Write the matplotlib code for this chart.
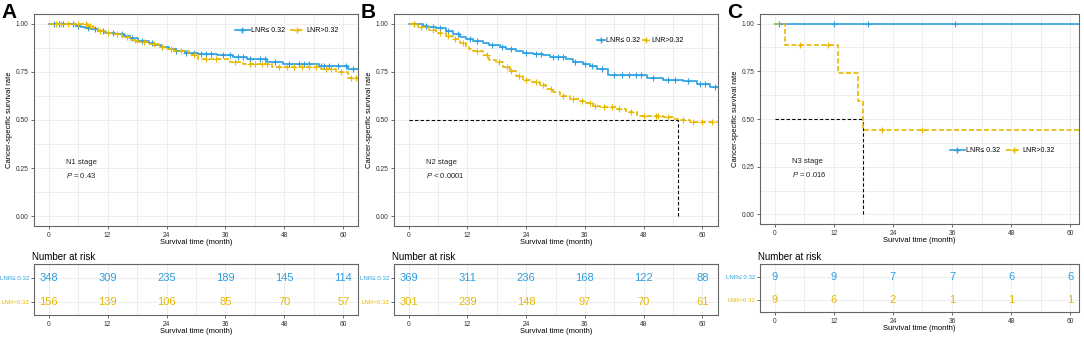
import numpy as np
import matplotlib
matplotlib.use("Agg")
import matplotlib.pyplot as plt
from matplotlib.lines import Line2D

plt.rcParams['font.family'] = ['Liberation Sans', 'DejaVu Sans']
plt.rcParams['mathtext.fontset'] = 'custom'
plt.rcParams['mathtext.it'] = 'Liberation Sans:italic'

BLUE = '#2E9FDF'
YELLOW = '#E7B800'
GRID = '#EBEBEB'
BORDER = '#666666'

# ---- data ----
# A: N1 stage
a_blue_t = [0, 5.6, 6.5, 7.3, 8.5, 10.0, 11.4, 13.5, 15.4, 16.5, 18.2, 20.5, 21.5, 22.9, 24.5, 26.0, 27.7, 30.5, 34.2, 37.6, 40.3, 44.4, 47.8, 55.0, 61.0]
a_blue_s = [1.0, .99, .98, .975, .97, .96, .95, .945, .935, .925, .91, .90, .89, .88, .87, .86, .85, .845, .836, .826, .815, .80, .79, .778, .767]
a_yel_t = [0, 8.0, 9.0, 10.0, 11.5, 13.0, 15.0, 16.5, 18.0, 20.5, 22.5, 24.0, 25.5, 28.5, 30.5, 37.0, 39.5, 45.5, 55.5, 58.5, 61.0]
a_yel_s = [1.0, .99, .975, .962, .953, .945, .93, .915, .905, .895, .88, .87, .86, .835, .815, .80, .79, .776, .763, .75, .72]
a_blue_cens = [1, 2, 3, 5, 6, 8, 9.5, 11, 13, 15, 17, 19, 21, 23, 26, 28, 29.5, 31, 32, 33, 35.5, 37, 38.5, 39.5, 41, 43, 44,
               46, 49, 51, 52, 53, 55.5, 56, 57, 59, 60.5, 62]
a_yel_cens = [1.5, 2.5, 4, 6, 7.5, 8.5, 10.5, 12, 14, 16, 17.5, 19.5, 21.5, 23, 25, 27, 29.5, 32, 34, 38, 41, 42, 43.5, 44.5,
              47, 48.5, 50, 51.5, 53, 54.5, 56.5, 57.5, 59.5, 61.5, 62.5]
a_risk_blue = [348, 309, 235, 189, 145, 114]
a_risk_yel = [156, 139, 106, 85, 70, 57]

# B: N2 stage
b_blue_t = [0, 2.9, 4.0, 5.6, 7.6, 9.0, 10.4, 11.7, 13.1, 15.2, 16.5, 18.6, 19.9, 22.0, 23.4, 25.4, 27.5, 28.8, 32.2, 33.6, 35.6, 37.0, 38.4, 40.8, 48.6, 52.0, 56.0, 58.9, 61.6]
b_blue_s = [1.0, .99, .98, .975, .96, .945, .93, .92, .91, .90, .89, .88, .87, .86, .85, .845, .835, .825, .815, .80, .79, .78, .765, .735, .72, .71, .70, .685, .67]
b_yel_t = [0, 2.0, 4.2, 5.6, 7.6, 9.0, 10.4, 11.7, 12.4, 13.1, 15.2, 16.5, 17.9, 19.3, 20.6, 22.0, 23.4, 24.7, 26.8, 28.1, 29.5, 30.9, 32.9, 34.9,
           36.3, 37.7, 39.0, 42.5, 44.5, 46.6, 52.0, 54.0, 55.0, 57.5]
b_yel_s = [1.0, .985, .965, .95, .935, .92, .90, .88, .87, .86, .835, .81, .80, .775, .755, .73, .71, .695, .68, .66, .645, .625, .61, .60,
           .59, .575, .565, .555, .54, .52, .515, .505, .50, .49]
b_blue_cens = [1, 3.5, 5, 6.5, 8, 10, 12.5, 14, 17, 19, 21, 24, 26, 27, 29.5, 30.5, 31.5, 34, 36, 37.5, 39.5, 42, 43.5, 45, 46.5,
               47.5, 50, 53, 54.5, 57, 59.5, 60.5, 62.5]
b_yel_cens = [1, 2.5, 5, 6.5, 8, 9.5, 11, 14, 16, 18.5, 20, 21, 22.5, 24, 26, 27.5, 29, 31.5, 33.5, 35.5, 37, 38, 40, 41.5, 43,
              45.5, 48, 50.5, 51, 53, 56, 58, 60, 62]
b_risk_blue = [369, 311, 236, 168, 122, 88]
b_risk_yel = [301, 239, 148, 97, 70, 61]
b_median = 55.0

# C: N3 stage
c_blue_t = [0]
c_blue_s = [1.0]
c_yel_t = [0, 2.0, 12.8, 16.9, 17.9]
c_yel_s = [1.0, .889, .741, .593, .444]
c_blue_cens = [0.8, 12, 18.9, 36.7]
c_yel_cens = [5.2, 10.8, 21.8, 29.9]
c_risk_blue = [9, 9, 7, 7, 6, 6]
c_risk_yel = [9, 6, 2, 1, 1, 1]
c_median = 17.9

risk_times = [0, 12, 24, 36, 48, 60]
group_labels = ['LNR\u2264 0.32', 'LNR>0.32']

W, H = 1084, 338
fig = plt.figure(figsize=(W / 100, H / 100), dpi=100)


def px_axes(l, t, r, b):
    return fig.add_axes([l / W, 1 - b / H, (r - l) / W, (b - t) / H])


def style_box(ax, xmax):
    ax.set_xlim(-3, xmax)
    ax.set_xticks(risk_times)
    ax.set_xticks([6, 18, 30, 42, 54], minor=True)
    ax.grid(True, which='both', color=GRID, lw=0.6)
    ax.set_axisbelow(True)
    for sp in ax.spines.values():
        sp.set_color(BORDER)
        sp.set_linewidth(0.8)
    ax.tick_params(which='major', labelsize=4.8, length=2, width=0.5, colors='#333333', pad=2)
    ax.tick_params(which='minor', length=0)
    ax.set_xlabel('Survival time (month)', fontsize=5.5, labelpad=0.5)


def step_value(ts, ss, t):
    idx = np.searchsorted(ts, t, side='right') - 1
    return np.array(ss)[idx]


def km_curve(ax, ts, ss, cens, tend, color, ls):
    tt = list(ts) + [tend]
    yy = list(ss) + [ss[-1]]
    ax.plot(tt, yy, drawstyle='steps-post', color=color, lw=1.2, ls=ls)
    ax.plot(cens, step_value(ts, ss, cens), ls='none', marker='+', ms=4.5, mew=0.8, color=color)


panels = [
    dict(letter='A', x0=34, x1=358, bot=226, tx0=264, tx1=315, xmax=63, stage='N1 stage', p=' = 0.43',
         blue=(a_blue_t, a_blue_s, a_blue_cens), yel=(a_yel_t, a_yel_s, a_yel_cens),
         risk=(a_risk_blue, a_risk_yel), median=None, leg=(0.78, 0.92), hl=2.2, cs=0.6),
    dict(letter='B', x0=394, x1=718, bot=226, tx0=264, tx1=315, xmax=63.2, stage='N2 stage', p=' < 0.0001',
         blue=(b_blue_t, b_blue_s, b_blue_cens), yel=(b_yel_t, b_yel_s, b_yel_cens),
         risk=(b_risk_blue, b_risk_yel), median=b_median, leg=(0.76, 0.875), hl=1.2, cs=0.2),
    dict(letter='C', x0=760, x1=1079, bot=224, tx0=264, tx1=312, xmax=61.8, stage='N3 stage', p=' = 0.016',
         blue=(c_blue_t, c_blue_s, c_blue_cens), yel=(c_yel_t, c_yel_s, c_yel_cens),
         risk=(c_risk_blue, c_risk_yel), median=c_median, leg=(0.76, 0.35), hl=2.2, cs=0.8),
]

for pn in panels:
    ax = px_axes(pn['x0'], 14, pn['x1'], pn['bot'])
    style_box(ax, pn['xmax'])
    ax.set_ylim(-0.05, 1.05)
    ax.set_yticks([0, 0.25, 0.5, 0.75, 1.0])
    ax.set_yticks([0.125, 0.375, 0.625, 0.875], minor=True)
    ax.set_yticklabels(['0.00', '0.25', '0.50', '0.75', '1.00'])
    ax.set_ylabel('Cancer-specific survival rate', fontsize=5.5, labelpad=2)

    if pn['median'] is not None:
        ax.plot([0, pn['median']], [0.5, 0.5], color='black', lw=0.8, ls=(0, (3, 2)))
        ax.plot([pn['median'], pn['median']], [0, 0.5], color='black', lw=0.8, ls=(0, (3, 2)))

    km_curve(ax, *pn['blue'], pn['xmax'], BLUE, '-')
    km_curve(ax, *pn['yel'], pn['xmax'], YELLOW, (0, (3, 1.5)))

    ax.text(3.5, 0.28, pn['stage'], fontsize=5.5, color='#222222', va='center')
    ax.text(3.5, 0.21, r'$P$' + pn['p'], fontsize=5.5, color='#222222', va='center')

    handles = [Line2D([], [], color=BLUE, lw=1.2, marker='+', ms=4),
               Line2D([], [], color=YELLOW, lw=1.2, ls=(0, (3, 1.5)), marker='+', ms=4)]
    ax.legend(handles, group_labels, loc='center', bbox_to_anchor=pn['leg'], ncol=2, frameon=False,
              fontsize=5, handlelength=pn['hl'], handletextpad=0.2, columnspacing=pn['cs'])

    fig.text((pn['x0'] - 33) / W, 1 - 12 / H, pn['letter'], fontsize=15, fontweight='bold', va='center', ha='left')

    # number at risk table
    tb = px_axes(pn['x0'], pn['tx0'], pn['x1'], pn['tx1'])
    style_box(tb, pn['xmax'])
    tb.set_ylim(-0.55, 1.58)
    tb.set_yticks([1, 0])
    tb.set_yticklabels(group_labels)
    tb.tick_params(axis='y', labelsize=4.4, pad=1.2)
    tb.grid(False, axis='y', which='minor')
    for lab, c in zip(tb.get_yticklabels(), [BLUE, YELLOW]):
        lab.set_color(c)
    for t, v in zip(risk_times, pn['risk'][0]):
        tb.text(t, 1, str(v), color=BLUE, fontsize=8, ha='center', va='center')
    for t, v in zip(risk_times, pn['risk'][1]):
        tb.text(t, 0, str(v), color=YELLOW, fontsize=8, ha='center', va='center')
    tb.set_title('Number at risk', fontsize=7, loc='left', pad=3, x=-0.005)

fig.savefig('out.png', dpi=100)
